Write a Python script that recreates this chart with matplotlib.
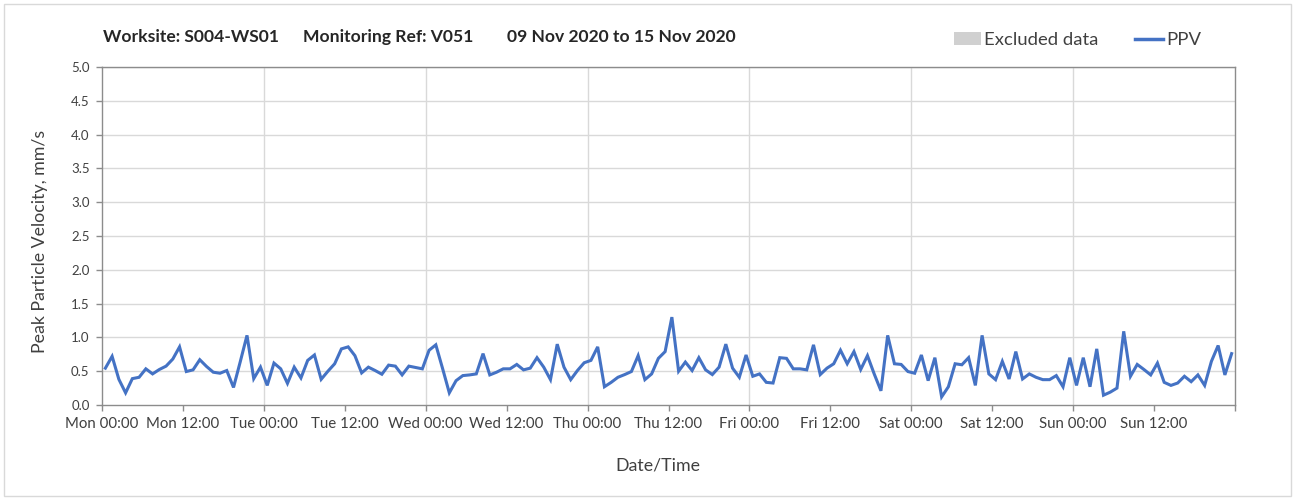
import matplotlib
matplotlib.use("Agg")
import matplotlib.pyplot as plt
from matplotlib.patches import Patch, Rectangle
from matplotlib.lines import Line2D
import pandas as pd

plt.rcParams["font.family"] = ["Lato", "DejaVu Sans"]

# Hourly peak particle velocity readings (mm/s), Mon 09 Nov to Sun 15 Nov 2020
ppv_mon = [0.545, 0.72, 0.38, 0.18, 0.39, 0.41, 0.535, 0.46, 0.525, 0.575, 0.68, 0.86,
           0.495, 0.52, 0.67, 0.57, 0.485, 0.47, 0.51, 0.26, 0.64, 1.03, 0.39, 0.56]
ppv_tue = [0.29, 0.62, 0.535, 0.32, 0.56, 0.40, 0.66, 0.74, 0.38, 0.50, 0.61, 0.83,
           0.86, 0.73, 0.475, 0.56, 0.51, 0.455, 0.59, 0.575, 0.445, 0.575, 0.555, 0.535]
ppv_wed = [0.81, 0.89, 0.54, 0.18, 0.36, 0.435, 0.445, 0.46, 0.76, 0.445, 0.485, 0.535,
           0.535, 0.60, 0.52, 0.545, 0.70, 0.56, 0.375, 0.90, 0.56, 0.375, 0.51, 0.625]
ppv_thu = [0.66, 0.86, 0.27, 0.335, 0.41, 0.45, 0.495, 0.73, 0.375, 0.46, 0.69, 0.79,
           1.30, 0.50, 0.635, 0.51, 0.70, 0.52, 0.45, 0.56, 0.90, 0.545, 0.41, 0.74]
ppv_fri = [0.425, 0.46, 0.335, 0.325, 0.70, 0.69, 0.535, 0.535, 0.52, 0.89, 0.45, 0.545,
           0.61, 0.81, 0.61, 0.79, 0.525, 0.73, 0.46, 0.21, 1.03, 0.61, 0.60, 0.495]
ppv_sat = [0.47, 0.74, 0.36, 0.70, 0.12, 0.27, 0.61, 0.595, 0.70, 0.29, 1.03, 0.46,
           0.375, 0.645, 0.385, 0.79, 0.385, 0.46, 0.41, 0.375, 0.375, 0.435, 0.27, 0.70]
ppv_sun = [0.29, 0.70, 0.27, 0.83, 0.145, 0.19, 0.25, 1.09, 0.425, 0.60, 0.525, 0.445,
           0.62, 0.335, 0.29, 0.325, 0.425, 0.345, 0.445, 0.29, 0.645, 0.88, 0.445, 0.76]

ppv = ppv_mon + ppv_tue + ppv_wed + ppv_thu + ppv_fri + ppv_sat + ppv_sun
times = pd.date_range("2020-11-09 00:30", periods=len(ppv), freq="h")

tick_labels = ["Mon 00:00", "Mon 12:00", "Tue 00:00", "Tue 12:00", "Wed 00:00",
               "Wed 12:00", "Thu 00:00", "Thu 12:00", "Fri 00:00", "Fri 12:00",
               "Sat 00:00", "Sat 12:00", "Sun 00:00", "Sun 12:00", ""]

W, H = 1301, 501
fig = plt.figure(figsize=(W / 100, H / 100), dpi=100)
fig.patch.set_facecolor("white")

# outer frame
fig.add_artist(Rectangle((4 / W, 1 - 496 / H), (1291 - 4) / W, (496 - 4) / H,
                         transform=fig.transFigure, fill=False,
                         edgecolor="#d9d9d9", linewidth=1.0))

ax = fig.add_axes([102 / W, 1 - 405 / H, (1235 - 102) / W, (405 - 67) / H])

ax.plot(times, ppv, color="#4472C4", linewidth=2.2, solid_joinstyle="miter", zorder=3)

x0 = pd.Timestamp("2020-11-09 00:00")
x1 = pd.Timestamp("2020-11-16 00:00")
ax.set_xlim(x0, x1)
ax.set_ylim(0, 5.0)

xticks = pd.date_range(x0, x1, freq="12h")
ax.set_xticks(xticks)
ax.set_xticklabels(tick_labels, fontsize=10.8, color="#404040")
ax.set_yticks([i * 0.5 for i in range(11)])
ax.set_yticklabels([f"{i * 0.5:.1f}" for i in range(11)], fontsize=9.5, color="#404040")

# gridlines: every 0.5 mm/s horizontally, every day vertically
for i in range(1, 11):
    ax.axhline(i * 0.5, color="#d9d9d9", linewidth=1.0, zorder=1)
for d in pd.date_range(x0, x1, freq="D")[1:-1]:
    ax.axvline(d, color="#d9d9d9", linewidth=1.0, zorder=1)

for s in ax.spines.values():
    s.set_color("#8c8c8c")
    s.set_linewidth(1.0)
ax.tick_params(axis="both", direction="out", length=4, width=1.0, color="#8c8c8c")
ax.tick_params(axis="y", pad=5)
ax.tick_params(axis="x", pad=5)

ax.set_ylabel("Peak Particle Velocity, mm/s", fontsize=12.8, color="#404040")
ax.yaxis.set_label_coords(-0.048, 0.485)
ax.set_xlabel("Date/Time", fontsize=12.8, color="#404040")
ax.xaxis.set_label_coords(0.491, -0.155)

# header text
head_kw = dict(fontsize=12.6, fontweight="bold", color="#262626", va="center", ha="left")
fig.text(103 / W, 1 - 37 / H, "Worksite: S004-WS01", **head_kw)
fig.text(303 / W, 1 - 37 / H, "Monitoring Ref: V051", **head_kw)
fig.text(507 / W, 1 - 37 / H, "09 Nov 2020 to 15 Nov 2020", **head_kw)

handles = [Patch(facecolor="#d0d0d0", edgecolor="none", label="Excluded data"),
           Line2D([], [], color="#4472C4", linewidth=2.5, label="PPV")]
fig.legend(handles=handles, loc="center left", bbox_to_anchor=(937 / W, 1 - 40 / H),
           ncol=2, frameon=False, fontsize=13.3, handlelength=1.5, handleheight=0.7,
           handletextpad=0.15, columnspacing=2.0, labelcolor="#404040")

fig.savefig("out.png", dpi=100, facecolor="white")
